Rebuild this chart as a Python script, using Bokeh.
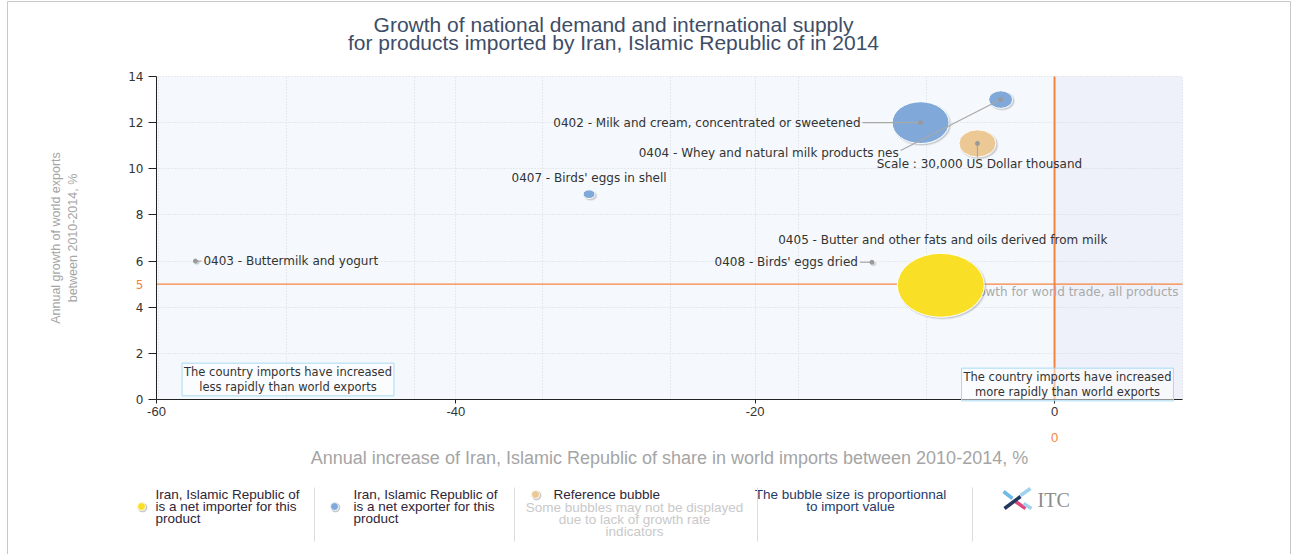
import numpy as np
from bokeh.plotting import figure
from bokeh.models import ColumnDataSource, Range1d, FixedTicker, BoxAnnotation, Label
from bokeh.transform import dodge
from bokeh.core.properties import value
from bokeh.embed import file_html
from bokeh.resources import INLINE

# ---------------- data ----------------
codes = ["0402", "0404", "0407", "0403", "0408", "0405"]
names = ["Milk and cream, concentrated or sweetened",
         "Whey and natural milk products nes",
         "Birds' eggs in shell",
         "Buttermilk and yogurt",
         "Birds' eggs dried",
         "Butter and other fats and oils derived from milk"]
share_growth = [-8.95, -3.6, -31.1, -57.4, -12.2, -7.6]      # x: annual increase of share in world imports, %
world_growth = [12.0, 13.0, 8.9, 6.0, 5.95, 4.95]           # y: annual growth of world exports, %
import_value = [71000, 12500, 3100, 450, 500, 166000]       # US Dollar thousand
trade_status = ["exporter", "exporter", "exporter", "exporter", "exporter", "importer"]

ref_value = 30000
ref_x = -5.15
ref_y = 11.1
world_avg_growth = 5
world_avg_share = 0

x_ticks = [-60, -40, -20, 0]
y_ticks = [0, 2, 4, 6, 8, 10, 12, 14]

# ---------------- style / layout ----------------
X_MIN, X_MAX = -60, 8.55
Y_MIN, Y_MAX = 0, 14
W, H = 1298, 554
PL, PR, PT, PB = 156, 1182, 76, 399          # plot area in canvas pixels
PX_X = (PR - PL) / (X_MAX - X_MIN)
PX_Y = (PB - PT) / (Y_MAX - Y_MIN)


def cx(px):   # canvas px -> data x
    return X_MIN + (px - PL) / PX_X


def cy(py):   # canvas px (down) -> data y
    return Y_MIN + (PB - py) / PX_Y


REF_RX = 18.5
ASPECT = 1.36
COLORS = {"importer": "#f9df25", "exporter": "#80a9d9"}
REF_COLOR = "#ebc894"
ORANGE = "#f5843f"
DARK = "#333333"
LBL_FONT = value("DejaVu Sans")

LABEL_DX = [-60, -102, 0, 8, -14, 2]
LABEL_DY = [0, 53, -16, 0, 0, -45]
LABEL_ALIGN = ["right", "right", "center", "left", "right", "center"]
LEADER = [True, True, False, True, True, False]

p = figure(width=W, height=H, x_range=Range1d(cx(0), cx(W)), y_range=Range1d(cy(H), cy(0)),
           toolbar_location=None, output_backend="svg",
           min_border_left=0, min_border_right=0, min_border_top=0, min_border_bottom=0)
p.background_fill_color = "white"
p.border_fill_color = "white"
p.outline_line_color = None

# plot area backgrounds
p.add_layout(BoxAnnotation(left=X_MIN, right=world_avg_share, bottom=Y_MIN, top=Y_MAX,
                           fill_color="#f5f9fd", fill_alpha=1, line_color=None, level="image"))
p.add_layout(BoxAnnotation(left=world_avg_share, right=X_MAX, bottom=Y_MIN, top=Y_MAX,
                           fill_color="#eef1f9", fill_alpha=1, line_color=None, level="image"))

# grids
grid_x = sorted(set(x_ticks + [X_MAX] + [-k * X_MAX for k in range(0, 8)]))
p.xgrid.ticker = FixedTicker(ticks=grid_x)
p.ygrid.ticker = FixedTicker(ticks=y_ticks)
p.xgrid.cross_bounds = (Y_MIN, Y_MAX)
p.ygrid.cross_bounds = (X_MIN, X_MAX)
for g in (p.xgrid[0], p.ygrid[0]):
    g.grid_line_color = "#d3d8de"
    g.grid_line_dash = "1 2"
    g.grid_line_width = 1

# axes
xa = p.xaxis[0]
xa.fixed_location = Y_MIN
xa.bounds = (X_MIN, X_MAX)
xa.ticker = FixedTicker(ticks=x_ticks)
xa.major_label_overrides = {t: str(t) for t in x_ticks}
xa.axis_line_color = "#222222"
xa.major_tick_line_color = "#222222"
xa.major_tick_out = 4
xa.major_tick_in = 0
xa.minor_tick_line_color = None
xa.major_label_standoff = 3
xa.major_label_text_font = "Liberation Sans"
xa.major_label_text_font_size = "13px"
xa.major_label_text_color = DARK
xa.axis_label = "Annual increase of Iran, Islamic Republic of share in world imports between 2010-2014, %"
xa.axis_label_text_font = "Liberation Sans"
xa.axis_label_text_font_size = "18px"
xa.axis_label_text_font_style = "normal"
xa.axis_label_text_color = "#a5a5a5"
xa.axis_label_standoff = 29

ya = p.yaxis[0]
ya.fixed_location = X_MIN
ya.bounds = (Y_MIN, Y_MAX)
ya.ticker = FixedTicker(ticks=y_ticks)
ya.axis_line_color = "#222222"
ya.major_tick_line_color = "#222222"
ya.major_tick_out = 8
ya.major_tick_in = 0
ya.minor_tick_line_color = None
ya.major_label_standoff = 5
ya.major_label_text_font = "DejaVu Sans"
ya.major_label_text_font_size = "12px"
ya.major_label_text_color = DARK
ya.axis_label = "Annual growth of world exports\nbetween 2010-2014, %"
ya.axis_label_text_font = "Liberation Sans"
ya.axis_label_text_font_size = "12.5px"
ya.axis_label_text_font_style = "normal"
ya.axis_label_text_color = "#a5a5a5"
ya.axis_label_standoff = 45

# world average reference lines
p.segment(x0=[X_MIN], y0=[world_avg_growth], x1=[X_MAX], y1=[world_avg_growth],
          line_color=ORANGE, line_width=1.3)
p.segment(x0=[world_avg_share], y0=[Y_MIN], x1=[world_avg_share], y1=[Y_MAX],
          line_color=ORANGE, line_width=2)
p.add_layout(Label(x=X_MIN, y=world_avg_growth, x_offset=-13, text=str(world_avg_growth),
                   text_align="right", text_baseline="middle", text_color=ORANGE,
                   text_font="DejaVu Sans", text_font_size="12px"))
p.add_layout(Label(x=world_avg_share, y=Y_MIN, y_offset=-38, text=str(world_avg_share),
                   text_align="center", text_baseline="middle", text_color=ORANGE,
                   text_font="Liberation Sans", text_font_size="13px"))
p.text(x=[X_MAX], y=[world_avg_growth], text=["Average growth for world trade, all products"],
       x_offset=-4, y_offset=8, text_align="right", text_baseline="middle",
       text_font=LBL_FONT, text_font_size="12px", text_color="#aaaaaa")

# bubbles
w = [2 * REF_RX * np.sqrt(v / ref_value) for v in import_value]
src = ColumnDataSource(dict(x=share_growth, y=world_growth, w=w, h=[v / ASPECT for v in w],
                            c=[COLORS[s] for s in trade_status]))
ref_w = 2 * REF_RX
ref_src = ColumnDataSource(dict(x=[ref_x], y=[ref_y], w=[ref_w], h=[ref_w / ASPECT], c=[REF_COLOR]))
for s in (src, ref_src):
    p.ellipse(x=dodge("x", 1.5 / PX_X), y=dodge("y", -1.5 / PX_Y), width="w", height="h",
              width_units="screen", height_units="screen", source=s,
              fill_color="#000000", fill_alpha=0.13, line_color="#000000", line_alpha=0.07, line_width=2)
    p.ellipse(x="x", y="y", width="w", height="h", width_units="screen", height_units="screen",
              source=s, fill_color="c", line_color="white", line_width=1)

# leader lines + labels
lx0, ly0, lx1, ly1 = [], [], [], []
for i in range(len(codes)):
    if LEADER[i]:
        sgn = 1 if LABEL_ALIGN[i] == "left" else -1
        lx0.append(share_growth[i]); ly0.append(world_growth[i])
        lx1.append(share_growth[i] + (LABEL_DX[i] - sgn * 2) / PX_X)
        ly1.append(world_growth[i] - (LABEL_DY[i] - np.sign(LABEL_DY[i]) * 2) / PX_Y)
lx0.append(ref_x); ly0.append(ref_y); lx1.append(ref_x); ly1.append(ref_y - 14 / PX_Y)
p.segment(x0=lx0, y0=ly0, x1=lx1, y1=ly1, line_color="#a8a8a8", line_width=1.2)
p.scatter(x=lx0, y=ly0, size=4, color="#999999")

for i in range(len(codes)):
    p.text(x=[share_growth[i]], y=[world_growth[i]], text=[f"{codes[i]} - {names[i]}"],
           x_offset=LABEL_DX[i], y_offset=LABEL_DY[i], text_align=LABEL_ALIGN[i],
           text_baseline="middle", text_font=LBL_FONT, text_font_size="12px", text_color=DARK)
p.text(x=[ref_x], y=[ref_y], text=[f"Scale : {ref_value:,} US Dollar thousand"],
       x_offset=2, y_offset=21, text_align="center", text_baseline="middle",
       text_font=LBL_FONT, text_font_size="12px", text_color=DARK)

# quadrant notes
for txt, px, py in [("The country imports have increased\nless rapidly than world exports", 287.5, 379),
                    ("The country imports have increased\nmore rapidly than world exports", 1067, 384)]:
    p.add_layout(Label(x=cx(px), y=cy(py), text=txt,
                       text_align="center", text_baseline="middle", text_font="DejaVu Sans",
                       text_font_size="11.5px", text_color=DARK, text_line_height=1.05,
                       border_line_color="#a9daf3", border_line_width=1,
                       background_fill_color="#ffffff", background_fill_alpha=0.5, padding=2))

# title
title_lines = ["Growth of national demand and international supply",
               "for products imported by Iran, Islamic Republic of in 2014"]
p.text(x=[cx(613)] * 2, y=[cy(24), cy(42)], text=title_lines, text_align="center",
       text_baseline="middle", text_font=value("Liberation Sans"), text_font_size="21px",
       text_color="#3d4d66")

# ---------------- legend strip ----------------
dot_x = [141, 334, 535]
dot_y = [506, 506, 494]
dot_c = [COLORS["importer"], COLORS["exporter"], REF_COLOR]
p.scatter(x=[cx(v + 1) for v in dot_x], y=[cy(v + 1) for v in dot_y], size=9, color="#000000", alpha=0.15)
p.scatter(x=[cx(v) for v in dot_x], y=[cy(v) for v in dot_y], size=8, fill_color=dot_c,
          line_color="white", line_width=0.8)

LF = value("Liberation Sans")


def tlines(px, pys, lines, color, align="left"):
    p.text(x=[cx(px)] * len(lines), y=[cy(v) for v in pys], text=lines, text_align=align,
           text_baseline="middle", text_font=LF, text_font_size="13.5px", text_color=color)


tlines(155, [494, 506, 518], ["Iran, Islamic Republic of", "is a net importer for this", "product"], "#2f2538")
tlines(353, [494, 506, 518], ["Iran, Islamic Republic of", "is a net exporter for this", "product"], "#2f2538")
tlines(553, [494], ["Reference bubble"], "#2f2538")
tlines(634, [507, 519, 531], ["Some bubbles may not be displayed", "due to lack of growth rate", "indicators"],
       "#c9c9c9", "center")
tlines(850, [494, 506], ["The bubble size is proportionnal", "to import value"], "#1f3a68", "center")

sep_x = [314, 514, 757, 972]
p.segment(x0=[cx(v) for v in sep_x], y0=[cy(487)] * 4, x1=[cx(v) for v in sep_x], y1=[cy(541)] * 4,
          line_color="#dcdcdc", line_width=1)

# ITC logo
lg_x0, lg_y0 = [1003, 1015, 1004, 1020, 1023], [491, 501, 508, 495, 503]
lg_x1, lg_y1 = [1012, 1025, 1020, 1030, 1031], [498, 508, 496, 488, 508]
p.segment(x0=[cx(v) for v in lg_x0], y0=[cy(v) for v in lg_y0],
          x1=[cx(v) for v in lg_x1], y1=[cy(v) for v in lg_y1],
          line_color=["#6fb9e6", "#e2457a", "#23375f", "#9fd2ee", "#9fd2ee"], line_width=3.5)
p.text(x=[cx(1037)], y=[cy(499)], text=["ITC"], text_align="left", text_baseline="middle",
       text_font=value("Liberation Serif"), text_font_size="20px", text_color="#8c8c8c")

# outer frame of the chart
p.segment(x0=[cx(7), cx(1290), cx(7)], y0=[cy(1), cy(1), cy(1)],
          x1=[cx(7), cx(1290), cx(1290)], y1=[cy(H), cy(H), cy(1)],
          line_color="#c8c8c8", line_width=1)

open("out.html", "w").write(file_html(p, INLINE))
